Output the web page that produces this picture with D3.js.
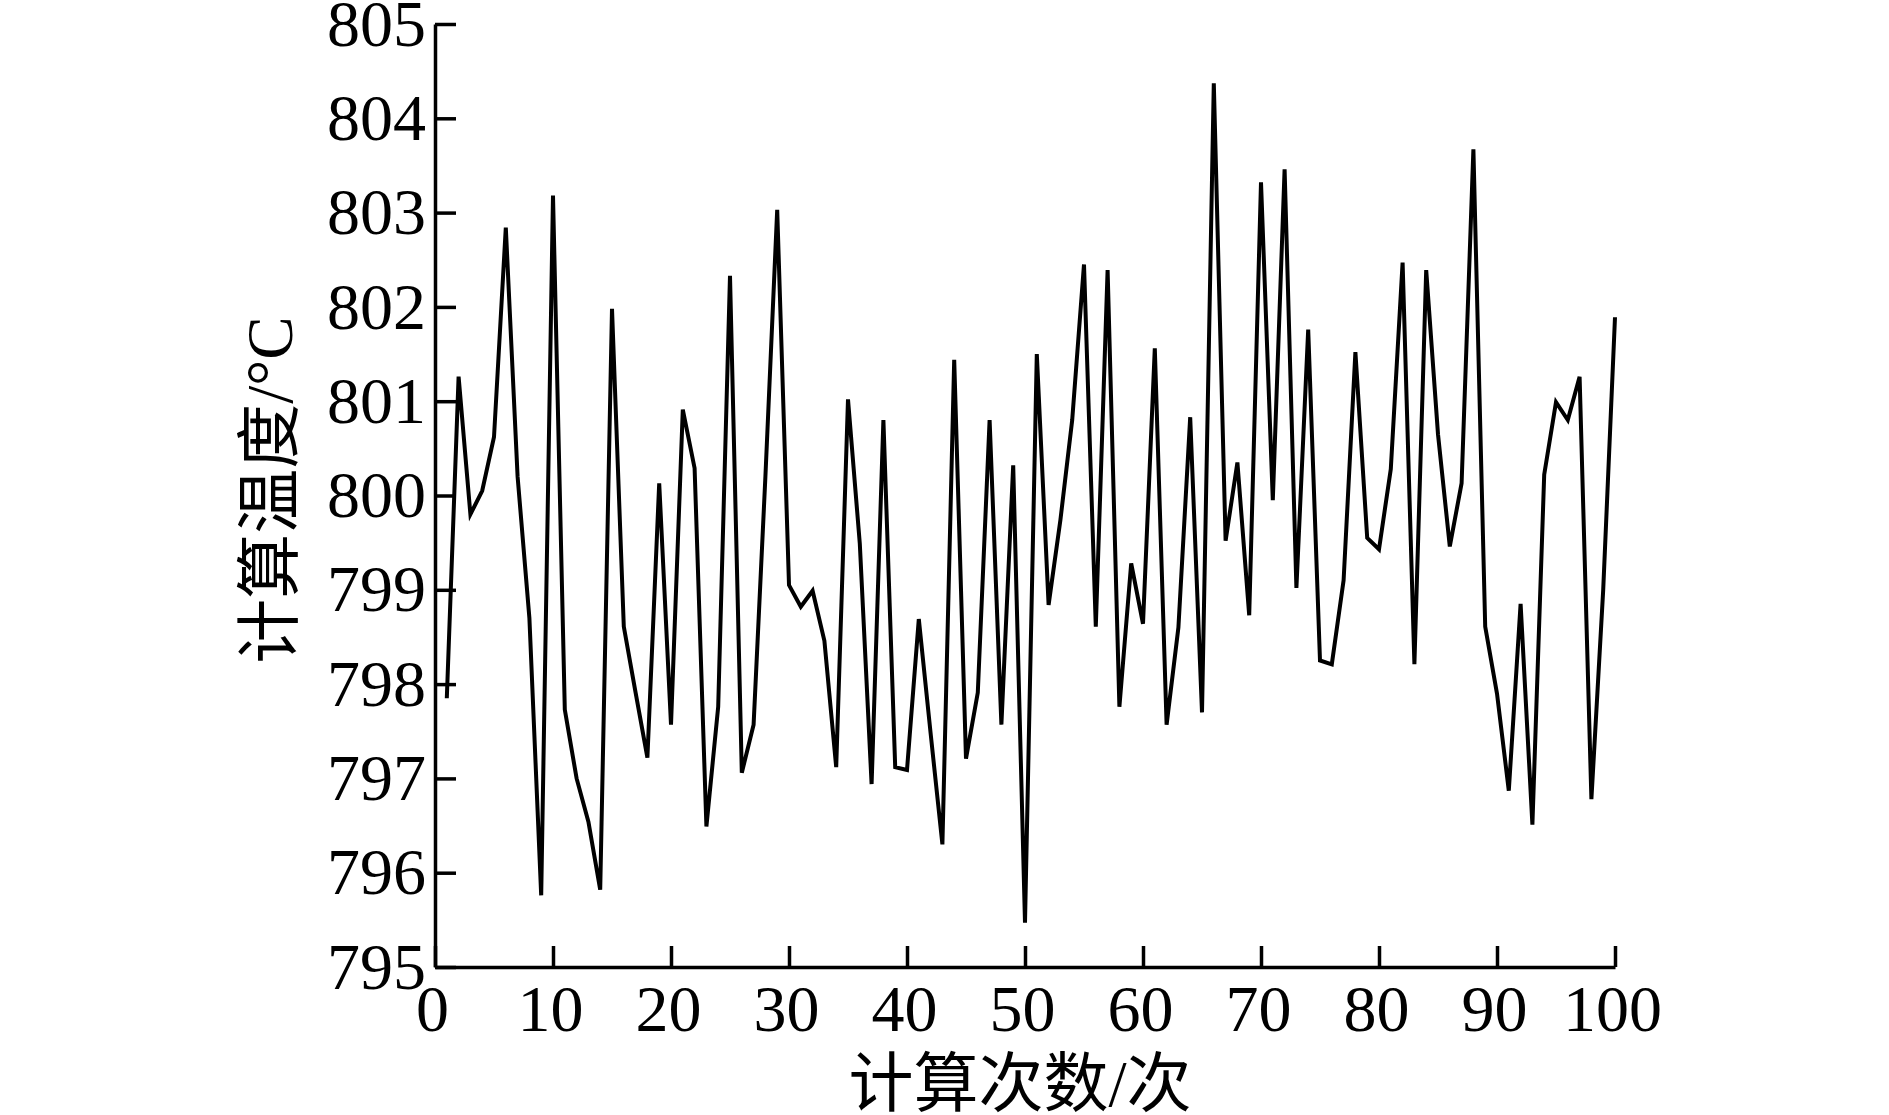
<!DOCTYPE html>
<html lang="zh">
<head>
    <meta charset="UTF-8">
    <title>计算温度</title>
    <style>
        body {
            margin: 0;
            background: #fff;
        }
        .chart text {
            font-family: "Liberation Serif", "Times New Roman", "Noto Sans CJK SC", serif;
            fill: #000;
        }
        .axis path, .axis line {
            stroke: #000;
            stroke-width: 3.5px;
        }
        .line {
            fill: none;
            stroke: #000;
            stroke-width: 4px;
        }
    </style>
</head>
<body>
<svg class="chart" width="1889" height="1115"></svg>

<script src="https://d3js.org/d3.v7.min.js"></script>
<script>
// x = 计算次数 1..100
const runs = d3.range(1, 101);
const temps = [
    797.85, 801.26, 799.80, 800.05, 800.62, 802.84, 800.20, 798.70, 795.76, 803.18,
    797.73, 797.00, 796.54, 795.82, 801.98, 798.61, 797.91, 797.22, 800.13, 797.57,
    800.91, 800.29, 796.49, 797.76, 802.33, 797.06, 797.57, 800.20, 803.03, 799.05,
    798.82, 798.99, 798.46, 797.12, 801.02, 799.49, 796.94, 800.80, 797.12, 797.09,
    798.69, 797.48, 796.30, 801.44, 797.21, 797.91, 800.80, 797.57, 800.32, 795.47,
    801.50, 798.84, 799.74, 800.80, 802.45, 798.61, 802.39, 797.76, 799.28, 798.64,
    801.56, 797.57, 798.60, 800.83, 797.70, 804.37, 799.52, 800.35, 798.73, 803.32,
    799.95, 803.46, 799.02, 801.76, 798.25, 798.21, 799.10, 801.52, 799.55, 799.43,
    800.28, 802.47, 798.21, 802.39, 800.65, 799.46, 800.13, 803.67, 798.61, 797.90,
    796.87, 798.85, 796.51, 800.22, 800.99, 800.80, 801.26, 796.78, 799.00, 801.89
];
const xTicks = [0, 10, 20, 30, 40, 50, 60, 70, 80, 90, 100];
const yTicks = [795, 796, 797, 798, 799, 800, 801, 802, 803, 804, 805];
const xTitle = '计算次数/次';
const yTitle = '计算温度/°C';

const svg = d3.select('.chart');

const x = d3.scaleLinear().domain([0, 100]).range([435, 1615]);
const y = d3.scaleLinear().domain([795, 805]).range([967, 24]);

const xAxis = svg.append('g')
    .attr('class', 'axis')
    .attr('transform', `translate(0,${y(795)})`)
    .call(d3.axisBottom(x)
        .tickValues(xTicks)
        .tickFormat(d3.format('d'))
        .tickSizeInner(-21)
        .tickSizeOuter(0)
        .tickPadding(17));

const yAxis = svg.append('g')
    .attr('class', 'axis')
    .attr('transform', `translate(${x(0)},0)`)
    .call(d3.axisLeft(y)
        .tickValues(yTicks)
        .tickFormat(d3.format('d'))
        .tickSizeInner(-21)
        .tickSizeOuter(0)
        .tickPadding(9));

svg.selectAll('.axis text')
    .attr('font-size', 66)
    .style('font-family', '"Liberation Serif", "Times New Roman", serif');

xAxis.selectAll('text').attr('dx', -3);

// 曲线
const line = d3.line()
    .x((d, i) => x(runs[i]))
    .y(d => y(d));

svg.append('path')
    .datum(temps)
    .attr('class', 'line')
    .attr('d', line);

// 坐标轴标题
svg.append('text')
    .attr('x', 1020)
    .attr('y', 1106)
    .attr('text-anchor', 'middle')
    .attr('font-size', 65)
    .text(xTitle);

svg.append('text')
    .attr('transform', 'translate(292,490) rotate(-90)')
    .attr('text-anchor', 'middle')
    .attr('font-size', 65)
    .text(yTitle);
</script>
</body>
</html>
